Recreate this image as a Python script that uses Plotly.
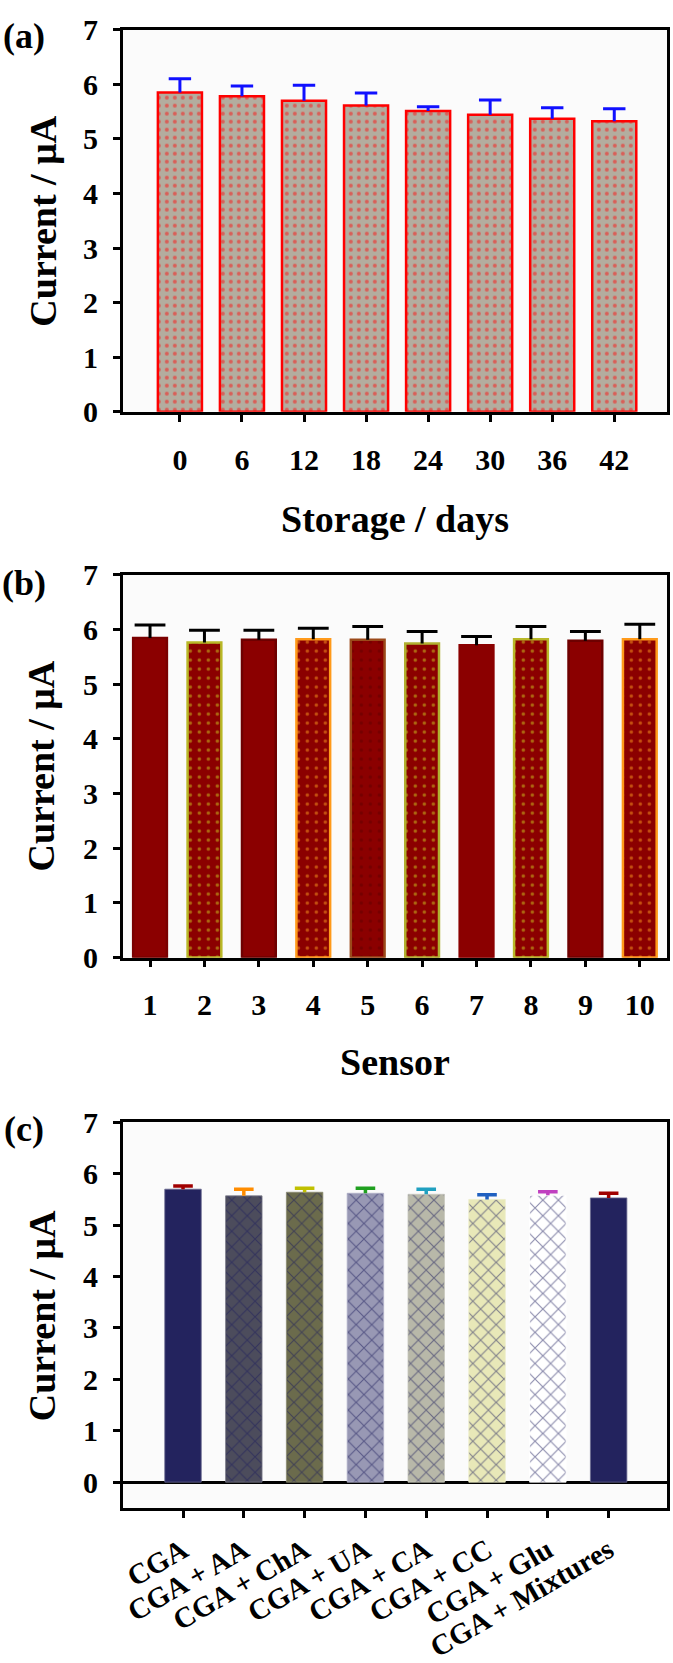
import plotly.graph_objects as go

W, H = 673, 1663

# ---------------- data ----------------
storage_days = ["0", "6", "12", "18", "24", "30", "36", "42"]
storage_current = [5.85, 5.78, 5.70, 5.61, 5.51, 5.44, 5.37, 5.32]
storage_err = [0.25, 0.19, 0.28, 0.23, 0.08, 0.27, 0.20, 0.23]

sensors = ["1", "2", "3", "4", "5", "6", "7", "8", "9", "10"]
sensor_current = [5.84, 5.76, 5.81, 5.82, 5.81, 5.74, 5.71, 5.82, 5.79, 5.82]
sensor_err = [0.24, 0.22, 0.17, 0.20, 0.24, 0.22, 0.16, 0.23, 0.17, 0.27]

interferents = ["CGA", "CGA + AA", "CGA + ChA", "CGA + UA", "CGA + CA",
                "CGA + CC", "CGA + Glu", "CGA + Mixtures"]
interf_current = [5.70, 5.57, 5.64, 5.62, 5.60, 5.50, 5.58, 5.53]
interf_err = [0.06, 0.13, 0.08, 0.10, 0.10, 0.09, 0.07, 0.09]

# ---------------- styles ----------------
sensor_line = ["#7a0000", "#b8b828", "#6e0000", "#ff9a1a", "#9b4a1a",
               "#b0b030", "#8b0000", "#b8b828", "#6e0000", "#ff9a1a"]
sensor_shape = ["", ".", "", ".", ".", ".", "", ".", "", "."]
sensor_dot = ["#8b0000", "#d0d020", "#8b0000", "#ffa020", "#600000",
              "#d0d020", "#8b0000", "#d0d020", "#8b0000", "#ffa020"]

interf_fill = ["#23235e", "#4c4c5c", "#6b6b4c", "#9898b4", "#b8b8a9",
               "#e8e8b8", "#ffffff", "#23235e"]
interf_edge = ["#6a6a90", "#7a7a88", "#8a8a70", "#b0b0c8", "#c8c8bc",
               "#eeeec8", "#ffffff", "#6a6a90"]
interf_shape = ["", "x", "x", "x", "x", "x", "x", ""]
interf_errcol = ["#a00000", "#ff8c00", "#c0c000", "#20a020", "#20a0c0",
                 "#2060c0", "#c040c0", "#a00000"]

FONT = "Liberation Serif"
TICKF = dict(family=FONT, size=30, color="black", weight="bold")
TICKF_C = dict(family=FONT, size=29, color="black", weight="bold")


def py(p):
    return 1 - p / H


def pxx(p):
    return p / W


fig = go.Figure()


def add_err(xs, ys, es, color, xa, ya, capw, thick=3):
    sx, sy = [], []
    for x, y, e in zip(xs, ys, es):
        sx += [x, x, None]
        sy += [y, y + e, None]
    fig.add_trace(go.Scatter(x=sx, y=sy, mode="lines", xaxis=xa, yaxis=ya,
                             line=dict(color=color, width=thick),
                             showlegend=False, hoverinfo="skip"))
    fig.add_trace(go.Scatter(x=xs, y=[y + e for y, e in zip(ys, es)],
                             mode="markers", xaxis=xa, yaxis=ya,
                             marker=dict(symbol="line-ew", size=capw,
                                         line=dict(color=color, width=thick)),
                             showlegend=False, hoverinfo="skip"))


# (a)
fig.add_trace(go.Bar(
    x=storage_days, y=storage_current, width=0.71, xaxis="x", yaxis="y",
    marker=dict(color="#b3ad9f", line=dict(color="#ff0000", width=2.5),
                pattern=dict(shape=".", fgcolor="#ff1010", bgcolor="#b3ad9f",
                             size=8, solidity=0.2)),
    showlegend=False))
add_err(storage_days, storage_current, storage_err, "#1010ff", "x", "y", 16)

# (b)
fig.add_trace(go.Bar(
    x=sensors, y=sensor_current, width=0.62, xaxis="x2", yaxis="y2",
    marker=dict(color="#8b0000", line=dict(color=sensor_line, width=2.5),
                pattern=dict(shape=sensor_shape, fgcolor=sensor_dot,
                             bgcolor="#8b0000", size=9, solidity=0.12)),
    showlegend=False))
add_err(sensors, sensor_current, sensor_err, "#000000", "x2", "y2", 22)

# (c)
for i, name in enumerate(interferents):
    fig.add_trace(go.Bar(
        x=[name], y=[interf_current[i]], width=0.6, xaxis="x3", yaxis="y3",
        marker=dict(color=interf_fill[i],
                    line=dict(color=interf_edge[i], width=0.8),
                    pattern=dict(shape=interf_shape[i], fgcolor="#1c1c5c",
                                 bgcolor=interf_fill[i], size=11,
                                 solidity=0.2)),
        showlegend=False))
    add_err([name], [interf_current[i]], [interf_err[i]], interf_errcol[i],
            "x3", "y3", 14, thick=3.5)

xdom = [pxx(122), pxx(667)]
axis_common = dict(showline=True, linecolor="black", linewidth=2.5,
                   mirror=True, showgrid=False, ticks="outside", ticklen=7,
                   tickwidth=2.5, tickcolor="black", fixedrange=True)

fig.update_layout(
    width=W, height=H,
    margin=dict(l=0, r=0, t=0, b=0),
    paper_bgcolor="white",
    plot_bgcolor="#fbfbfb",
    barmode="overlay",
    showlegend=False,
    xaxis=dict(domain=xdom, anchor="y", type="category", tickfont=TICKF,
               range=[-0.92, 7.85], ticklabelstandoff=12, **axis_common),
    yaxis=dict(domain=[py(405), py(13)], anchor="x", range=[0, 7], dtick=1,
               tickfont=TICKF, zeroline=False, ticklabelstandoff=9,
               **axis_common),
    xaxis2=dict(domain=xdom, anchor="y2", type="category", tickfont=TICKF,
                range=[-0.5, 9.5], ticklabelstandoff=12, **axis_common),
    yaxis2=dict(domain=[py(965), py(572)], anchor="x2", range=[0, 7],
                dtick=1, tickfont=TICKF, zeroline=False, ticklabelstandoff=9,
                **axis_common),
    xaxis3=dict(domain=xdom, anchor="y3", type="category", tickfont=TICKF_C,
                range=[-0.99, 7.96], tickangle=-30, ticklabelstandoff=4,
                **axis_common),
    yaxis3=dict(domain=[py(1530), py(1134)], anchor="x3", range=[-0.51, 7],
                tickvals=[0, 1, 2, 3, 4, 5, 6, 7], zeroline=True,
                zerolinecolor="black", zerolinewidth=2.5, tickfont=TICKF,
                ticklabelstandoff=9, **axis_common),
)

TITLEF = dict(family=FONT, size=38, color="black", weight="bold")
PANELF = dict(family=FONT, size=36, color="black", weight="bold")

annos = [
    ("(a)", 23, 20, 0, PANELF),
    ("(b)", 23, 581, 0, PANELF),
    ("(c)", 23, 1141, 0, PANELF),
    ("Current / μA", 42, 209, -90, TITLEF),
    ("Current / μA", 40, 768, -90, TITLEF),
    ("Current / μA", 41, 1332, -90, TITLEF),
    ("Storage / days", 395, 515, 0, TITLEF),
    ("Sensor", 395, 1072, 0, TITLEF),
]
for text, ax, ay, ang, f in annos:
    fig.add_annotation(text=text, x=pxx(ax), y=py(ay), xref="paper",
                       yref="paper", showarrow=False, textangle=ang,
                       xanchor="center", yanchor="middle", font=f)

fig.write_html("out.html")
